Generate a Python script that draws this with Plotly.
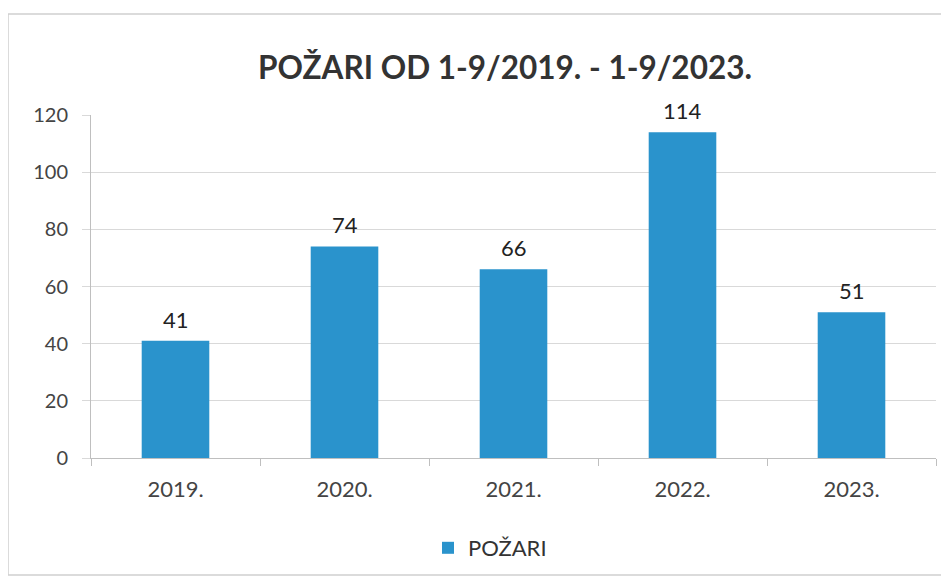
import plotly.graph_objects as go

categories = ["2019.", "2020.", "2021.", "2022.", "2023."]
values = [41, 74, 66, 114, 51]
series_name = "POŽARI"
title = "POŽARI OD 1-9/2019. - 1-9/2023."
y_ticks = [0, 20, 40, 60, 80, 100, 120]

# page body has an 8px margin: figure is sized/offset to compensate
W, H = 941, 576
L, R, T, B = 83, 13, 107, 126
pw, ph = W - L - R, H - T - B

fig = go.Figure()
fig.add_trace(go.Bar(
    x=categories, y=values, name=series_name,
    marker=dict(color="#2A93CC", line=dict(width=0)),
    showlegend=True,
))

# data labels (category index used as position on the category axis)
for i, v in enumerate(values):
    fig.add_annotation(x=i, y=v, xref="x", yref="y", text=str(v), showarrow=False,
                       yanchor="bottom", yshift=6,
                       font=dict(family="Lato", size=22, color="#222"))

fig.update_layout(
    width=W, height=H,
    margin=dict(l=L, r=R, t=T, b=B),
    paper_bgcolor="white", plot_bgcolor="white",
    bargap=0.6,
    title=dict(text="<b>" + title + "</b>", x=497 / W, xanchor="center", y=1 - 60 / H, yanchor="middle",
               font=dict(family="Lato", size=31.5, color="#333")),
    font=dict(family="Lato", size=20, color="#444"),
    showlegend=True,
    legend=dict(orientation="h", x=(482 - L) / pw, xanchor="center", y=-(540 - (H - B)) / ph, yanchor="middle",
                font=dict(family="Lato", size=22, color="#333"), itemwidth=30),
    xaxis=dict(type="category", categoryorder="array", categoryarray=categories,
               showgrid=False, showline=True, linecolor="#bfbfbf", linewidth=1,
               ticks="outside", ticklen=7, tickcolor="#bfbfbf", tickson="boundaries",
               ticklabelstandoff=12, tickangle=0,
               tickfont=dict(family="Lato", size=22, color="#444")),
    yaxis=dict(range=[0, 120], tickvals=y_ticks, showgrid=True, gridcolor="#d9d9d9",
               showline=True, linecolor="#bfbfbf", ticks="outside", ticklen=8,
               tickcolor="#d9d9d9", zeroline=False, ticklabelstandoff=10,
               tickfont=dict(family="Lato", size=20, color="#444")),
    shapes=[dict(type="rect", xref="paper", yref="paper",
                 x0=(0 - L) / pw, x1=(938 - L) / pw, y0=-(567 - (H - B)) / ph, y1=((H - B) - 6) / ph,
                 line=dict(color="#d0d0d0", width=1.5))],
)

fig.write_html("out.html")
